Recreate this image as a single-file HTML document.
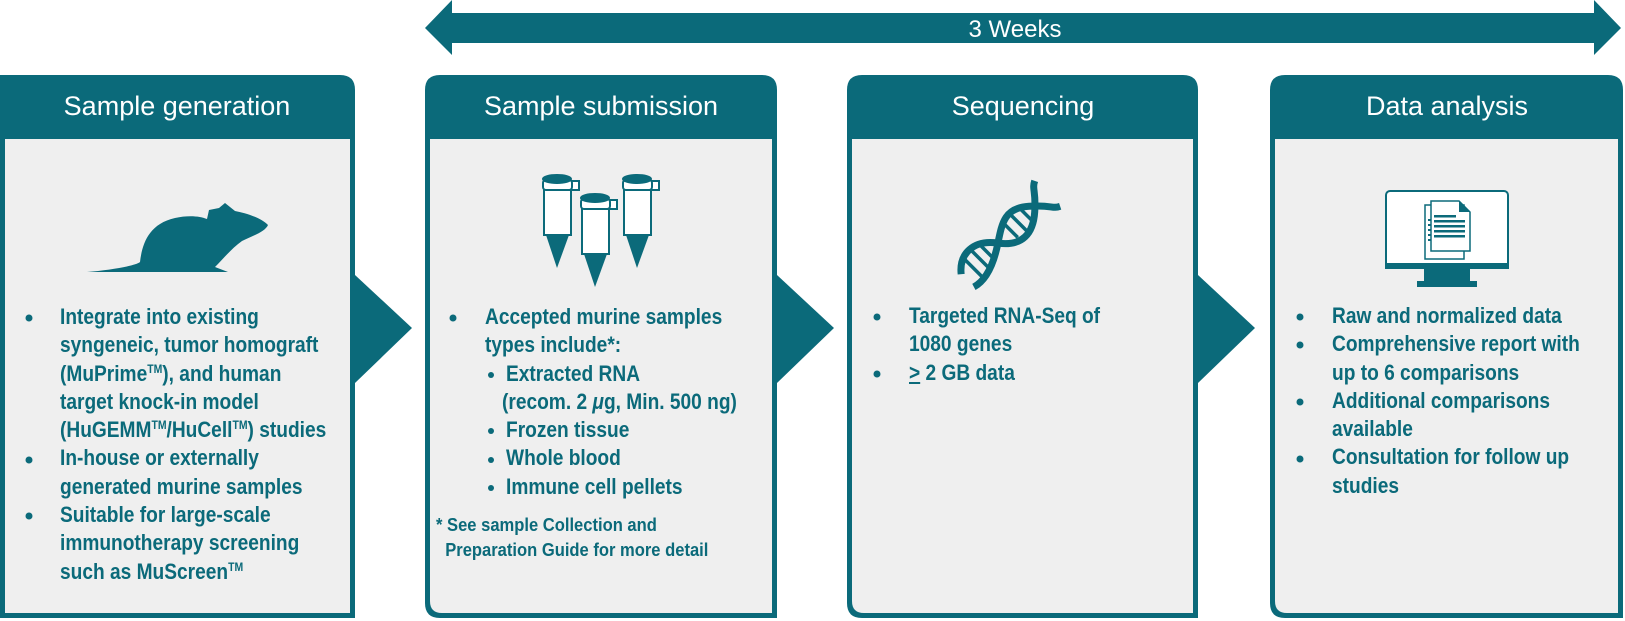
<!DOCTYPE html>
<html><head><meta charset="utf-8"><style>
body{margin:0;width:1625px;height:621px;background:#fff;overflow:hidden;position:relative;font-family:"Liberation Sans",sans-serif}
svg{position:absolute;left:0;top:0}
.h{position:absolute;color:#fff;font-size:27px;text-align:center;width:352px;top:91px;line-height:30px}
.t{position:absolute;color:#0b6a7a;font-weight:bold;font-size:22px;line-height:28.3px;transform:scaleX(.87);transform-origin:0 0;white-space:nowrap}
.f{position:absolute;color:#0b6a7a;font-weight:bold;font-size:18px;line-height:25px;transform:scaleX(.92);transform-origin:0 0;white-space:nowrap}
sup{font-size:12px;vertical-align:8px;line-height:0}
</style></head><body>
<svg width="1625" height="621" viewBox="0 0 1625 621">
<g fill="#0b6a7a">
<polygon points="425,28 452,0 452,13 1594,13 1594,0 1621,28 1594,55 1594,43 452,43 452,55"/>
<path d="M0,75 H340 Q355,75 355,90 V618 H0 Z"/>
<rect x="5" y="139" width="345" height="474" fill="#efefef"/>
<path d="M440,75 H762 Q777,75 777,90 V618 H440 Q425,618 425,603 V90 Q425,75 440,75 Z"/>
<path d="M430,139 H772 V613 H442 Q430,613 430,601 Z" fill="#efefef"/>
<path d="M862,75 H1183 Q1198,75 1198,90 V618 H862 Q847,618 847,603 V90 Q847,75 862,75 Z"/>
<path d="M852,139 H1193 V613 H864 Q852,613 852,601 Z" fill="#efefef"/>
<path d="M1285,75 H1608 Q1623,75 1623,90 V618 H1285 Q1270,618 1270,603 V90 Q1270,75 1285,75 Z"/>
<path d="M1275,139 H1618 V613 H1287 Q1275,613 1275,601 Z" fill="#efefef"/>
<polygon points="355,275 412,328 355,383"/>
<polygon points="777,275 834,328 777,383"/>
<polygon points="1198,275 1255,328 1198,383"/>
<path d="M87,272 C110,270 135,266 140,262 C142,245 148,224 175,218 C188,215 200,216 207,219 L209,210 L219,208 L225,203 L235,211 C245,213 260,217 268,225 C265,232 252,236 242,241 C232,248 223,259 215,267 L228,272 Z"/>
<circle cx="29" cy="318" r="3.5"/><circle cx="29" cy="460" r="3.5"/><circle cx="29" cy="516" r="3.5"/>
<circle cx="453" cy="318" r="3.5"/><circle cx="491" cy="375" r="3"/><circle cx="491" cy="431" r="3"/><circle cx="491" cy="460" r="3"/><circle cx="491" cy="488" r="3"/>
<circle cx="877" cy="317" r="3.5"/><circle cx="877" cy="374" r="3.5"/>
<circle cx="1300" cy="317" r="3.5"/><circle cx="1300" cy="345" r="3.5"/><circle cx="1300" cy="402" r="3.5"/><circle cx="1300" cy="459" r="3.5"/>
</g>
<g stroke="#0b6a7a" stroke-width="2" fill="#fff">
<g id="tb">
<rect x="544" y="186" width="27" height="49"/>
<rect x="566" y="181" width="13" height="9"/>
<rect x="543" y="180" width="29" height="10" rx="3"/>
<ellipse cx="557" cy="179" rx="14" ry="4" fill="#0b6a7a"/>
<polygon points="546,235 569,235 557,268" fill="#0b6a7a" stroke="none"/>
</g>
<use href="#tb" x="38" y="19"/>
<use href="#tb" x="80" y="0"/>
</g>
<g transform="translate(1005,236) rotate(-45)" stroke="#0b6a7a" fill="none" stroke-width="7">
<path d="M-58,-4 C-45,-20 -25,-20 -10,0 S22,18 38,4 S52,-14 60,-18"/>
<path d="M-58,14 C-45,18 -28,12 -10,0 S20,-20 38,-4 S52,14 60,18"/>
<g stroke-width="3.5"><line x1="-45" y1="-12" x2="-45" y2="14"/><line x1="-34" y1="-14" x2="-34" y2="12"/><line x1="-24" y1="-10" x2="-24" y2="8"/>
<line x1="8" y1="-10" x2="8" y2="10"/><line x1="19" y1="-13" x2="19" y2="13"/><line x1="30" y1="-11" x2="30" y2="11"/></g>
</g>
<g>
<rect x="1386" y="191" width="122" height="76" rx="4" fill="#fff" stroke="#0b6a7a" stroke-width="2"/>
<rect x="1385" y="263" width="124" height="6" fill="#0b6a7a"/>
<rect x="1424" y="269" width="46" height="13" fill="#0b6a7a"/>
<rect x="1417" y="281" width="60" height="6" fill="#0b6a7a"/>
<rect x="1425" y="205" width="39" height="54" fill="#fff" stroke="#0b6a7a" stroke-width="1.5"/>
<path d="M1431,201 H1459 L1470,212 V251 H1431 Z" fill="#fff" stroke="#0b6a7a" stroke-width="1.5"/>
<path d="M1459,201 L1470,212 H1459 Z" fill="#0b6a7a"/>
<g fill="#0b6a7a"><rect x="1434" y="215" width="22" height="2.5"/><rect x="1434" y="220" width="31" height="2.5"/><rect x="1434" y="225" width="31" height="2.5"/><rect x="1434" y="230" width="31" height="2.5"/><rect x="1434" y="235" width="31" height="2.5"/>
<rect x="1428" y="219" width="3" height="2"/><rect x="1428" y="224" width="3" height="2"/><rect x="1428" y="229" width="3" height="2"/><rect x="1428" y="234" width="3" height="2"/><rect x="1428" y="239" width="3" height="2"/></g>
</g>
<text x="1015" y="37" fill="#fff" font-family="Liberation Sans" font-size="24" text-anchor="middle">3 Weeks</text>
</svg>
<div class="h" style="left:1px">Sample generation</div>
<div class="h" style="left:425px">Sample submission</div>
<div class="h" style="left:847px">Sequencing</div>
<div class="h" style="left:1271px">Data analysis</div>

<div class="t" style="left:60px;top:303px">Integrate into existing<br>syngeneic, tumor homograft<br>(Mu<b>Prime</b><sup>TM</sup>), and human<br>target knock-in model<br>(Hu<b>GEMM</b><sup>TM</sup>/Hu<b>Cell</b><sup>TM</sup>) studies<br>In-house or externally<br>generated murine samples<br>Suitable for large-scale<br>immunotherapy screening<br>such as Mu<b>Screen</b><sup>TM</sup></div>

<div class="t" style="left:485px;top:303px">Accepted murine samples<br>types include*:</div>
<div class="t" style="left:506px;top:360px">Extracted RNA</div>
<div class="t" style="left:502px;top:388px">(recom. 2 <i>μ</i>g, Min. 500 ng)</div>
<div class="t" style="left:506px;top:416px">Frozen tissue<br>Whole blood<br>Immune cell pellets</div>
<div class="f" style="left:436px;top:513px">* See sample Collection and<br>&nbsp;&nbsp;Preparation Guide for more detail</div>

<div class="t" style="left:909px;top:302px">Targeted RNA-Seq of<br>1080 genes<br><span style="text-decoration:underline">&gt;</span> 2 GB data</div>

<div class="t" style="left:1332px;top:302px">Raw and normalized data<br>Comprehensive report with<br>up to 6 comparisons<br>Additional comparisons<br>available<br>Consultation for follow up<br>studies</div>
</body></html>
